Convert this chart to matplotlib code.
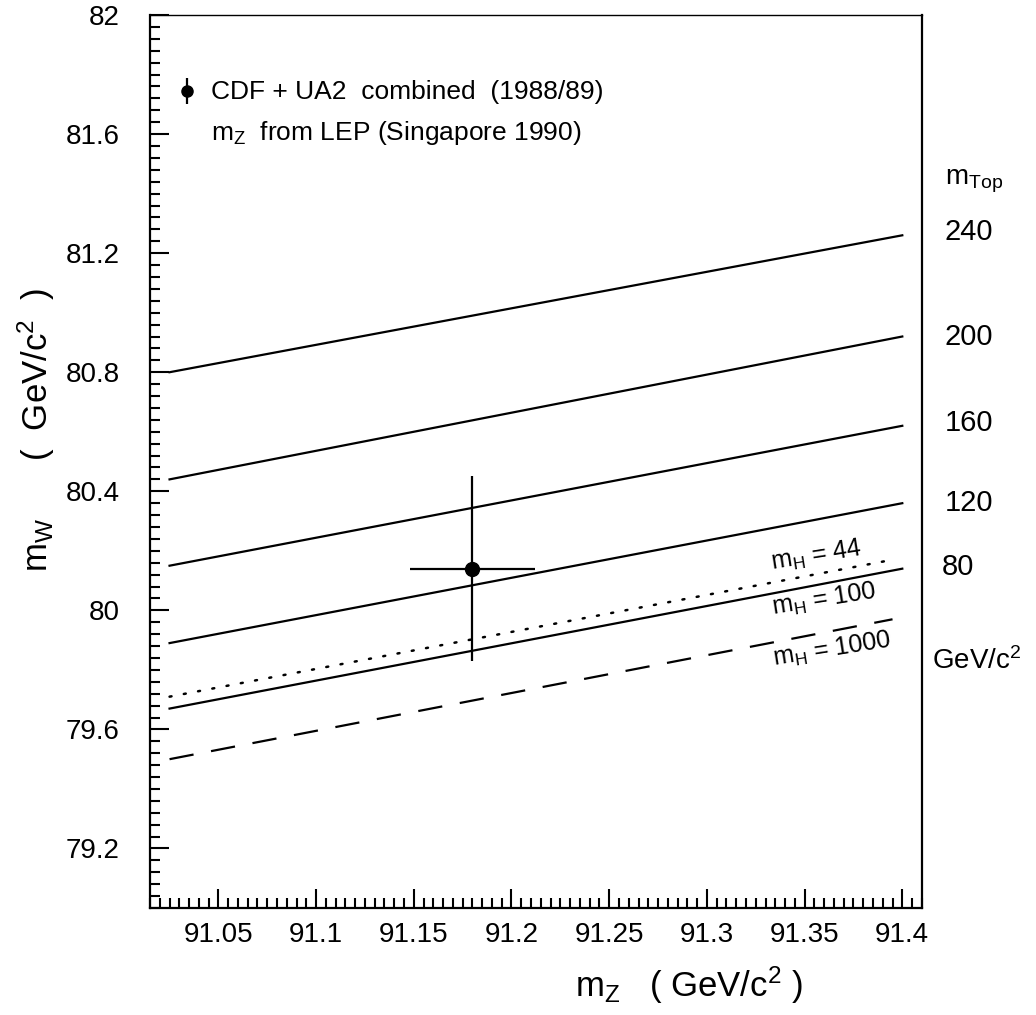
import numpy as np
import matplotlib.pyplot as plt
from matplotlib.ticker import MultipleLocator, FormatStrFormatter

plt.rcParams['font.family'] = ['Liberation Sans', 'DejaVu Sans']
plt.rcParams['mathtext.fontset'] = 'custom'
plt.rcParams['mathtext.rm'] = 'Liberation Sans'
plt.rcParams['mathtext.it'] = 'Liberation Sans'

# m_W prediction lines (m_H = 100), end points at the two m_Z values
mz_ends = [91.025, 91.40]
mtop_labels = ['240', '200', '160', '120', '80']
mw_left = [80.80, 80.44, 80.15, 79.89, 79.67]
mw_right = [81.26, 80.92, 80.62, 80.36, 80.14]

# m_top = 80 with other Higgs masses
mz_ends_h = [91.025, 91.395]
mw_h44 = [79.71, 80.17]
mw_h1000 = [79.50, 79.97]

# CDF + UA2 combined
mz_pt = 91.18
mz_err = 0.032
mw_pt = 80.14
mw_err = 0.31

fig = plt.figure(figsize=(10.36, 10.15), dpi=100)
ax = fig.add_axes([0.1448, 0.1054, 0.745, 0.8798])

for yl, yr in zip(mw_left, mw_right):
    ax.plot(mz_ends, [yl, yr], color='black', lw=1.6)
ax.plot(mz_ends_h, mw_h44, color='black', lw=1.8, linestyle=(0, (0.8, 5)),
        dash_capstyle='round')
ax.plot(mz_ends_h, mw_h1000, color='black', lw=1.6, linestyle=(0, (11, 8)))

ax.errorbar(mz_pt, mw_pt, xerr=mz_err, yerr=mw_err, fmt='o', color='black',
            ms=10, elinewidth=1.6, capsize=0)

# legend-like text
ax.errorbar(91.034, 81.745, yerr=0.045, fmt='o', color='black', ms=8,
            elinewidth=1.6, capsize=0)
ax.text(91.046, 81.74, 'CDF + UA2  combined  (1988/89)', fontsize=19,
        va='center', ha='left')
ax.text(91.046, 81.605, r'm$_Z$  from LEP (Singapore 1990)', fontsize=19,
        va='center', ha='left')

# Higgs labels
ax.text(91.356, 80.183, r'm$_H$ = 44', fontsize=18, rotation=9,
        ha='center', va='center')
ax.text(91.360, 80.035, r'm$_H$ = 100', fontsize=18, rotation=9,
        ha='center', va='center')
ax.text(91.364, 79.867, r'm$_H$ = 1000', fontsize=18, rotation=9,
        ha='center', va='center')

# top mass labels on the right
tr = ax.get_yaxis_transform()
ax.text(1.03, 81.44, r'm$_{Top}$', transform=tr, fontsize=20,
        ha='left', va='center')
label_y = [81.27, 80.92, 80.63, 80.36, 80.146]
for lab, yv in zip(mtop_labels, label_y):
    ax.text(1.03 if lab != '80' else 1.026, yv, lab, transform=tr,
            fontsize=21, ha='left', va='center')
ax.text(1.013, 79.83, r'GeV/c$^2$', transform=tr, fontsize=20,
        ha='left', va='center')

ax.set_xlim(91.015, 91.41)
ax.set_ylim(79.0, 82.0)

ax.xaxis.set_major_locator(MultipleLocator(0.05))
ax.xaxis.set_minor_locator(MultipleLocator(0.005))
ax.yaxis.set_major_locator(MultipleLocator(0.4))
ax.yaxis.set_minor_locator(MultipleLocator(0.04))
ax.xaxis.set_major_formatter(FormatStrFormatter('%g'))
ax.yaxis.set_major_formatter(FormatStrFormatter('%g'))

ax.tick_params(which='both', direction='in', top=False, right=False,
               labelsize=20, width=1.5)
ax.tick_params(which='major', length=14)
ax.tick_params(which='minor', length=7)
ax.tick_params(axis='y', pad=22)
ax.tick_params(axis='x', pad=10)
for sp in ax.spines.values():
    sp.set_linewidth(1.6)
ax.spines['top'].set_linewidth(1.0)

ax.set_ylabel(r'm$_W$      (  GeV/c$^2$  )', fontsize=25)
ax.yaxis.set_label_coords(-0.12, 0.535)
fig.text(0.665, 0.0296, r'm$_Z$   ( GeV/c$^2$ )', fontsize=25,
         ha='center', va='center')

fig.savefig('out.png', dpi=100)
